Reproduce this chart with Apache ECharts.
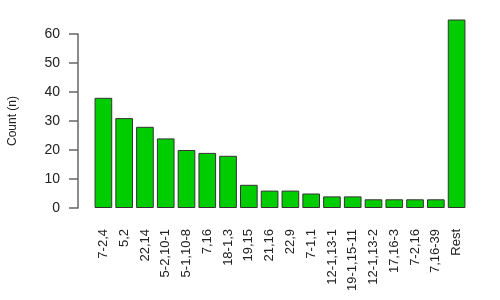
<!DOCTYPE html>
<html>
<head>
<meta charset="utf-8">
<script src="https://cdn.jsdelivr.net/npm/echarts@6/dist/echarts.min.js"></script>
<style>html,body{margin:0;padding:0;background:#fff}#c{width:500px;height:300px}</style>
</head>
<body>
<div id="c"></div>
<script>
const categories = ["7-2,4","5,2","22,14","5-2,10-1","5-1,10-8","7,16","18-1,3","19,15","21,16","22,9","7-1,1","12-1,13-1","19-1,15-11","12-1,13-2","17,16-3","7-2,16","7,16-39","Rest"];
const counts = [38,31,28,24,20,19,18,8,6,6,5,4,4,3,3,3,3,65];
const yTicks = [0,10,20,30,40,50,60];
const yLabel = "Count (n)";

const chart = echarts.init(document.getElementById('c'), null, {renderer:'canvas'});
chart.setOption({
  animation:false,
  backgroundColor:'#ffffff',
  grid:{left:93,right:33,top:34,bottom:92,outerBoundsMode:'none',containLabel:false},
  xAxis:{
    type:'category',
    data:categories,
    axisLine:{show:false},
    axisTick:{show:false},
    axisLabel:{rotate:90,margin:21,fontSize:13,color:'#222',fontFamily:'Liberation Sans, Arial, sans-serif',interval:0}
  },
  yAxis:{
    type:'value',
    min:yTicks[0],
    max:yTicks[yTicks.length-1],
    interval:10,
    offset:15,
    name:yLabel,
    nameLocation:'middle',
    nameGap:59,
    nameTextStyle:{fontSize:12,color:'#222',fontFamily:'Liberation Sans, Arial, sans-serif'},
    axisLine:{show:true,lineStyle:{color:'#666',width:1.5}},
    axisTick:{show:true,length:9,lineStyle:{color:'#666',width:1.5}},
    axisLabel:{margin:18,fontSize:14,color:'#222',fontFamily:'Liberation Sans, Arial, sans-serif'},
    splitLine:{show:false}
  },
  series:[{
    type:'bar',
    data:counts,
    clip:false,
    barCategoryGap:'15%',
    itemStyle:{color:'#00CD00',borderColor:'#333',borderWidth:1}
  }]
});
</script>
</body>
</html>
